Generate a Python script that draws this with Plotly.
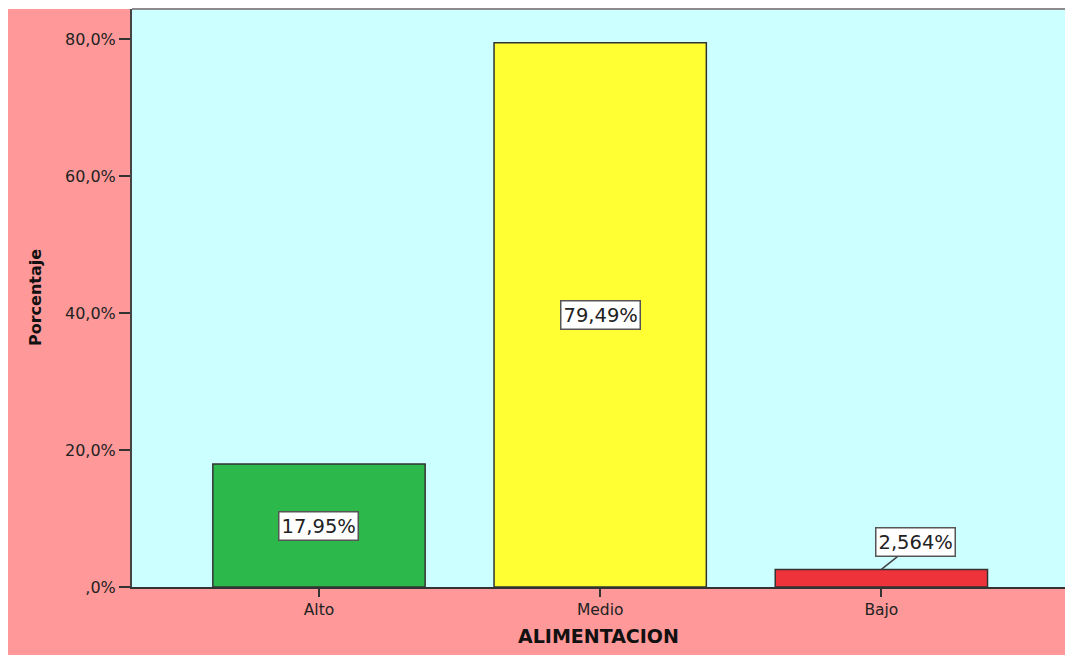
import plotly.graph_objects as go

# Data
categories = ["Alto", "Medio", "Bajo"]
percentages = [17.95, 79.49, 2.564]
bar_colors = ["#2DB84B", "#FFFF33", "#EF333A"]
y_tick_vals = [0, 20, 40, 60, 80]
y_tick_text = [",0%", "20,0%", "40,0%", "60,0%", "80,0%"]

W, H = 1065, 655
ML, MR, MT, MB = 132, 0, 9, 68
PW, PH = W - ML - MR, H - MT - MB

FONT = "DejaVu Sans, Verdana, Arial, sans-serif"


def pct_label(v):
    return f"{v:.4g}".replace(".", ",") + "%"


fig = go.Figure(
    go.Bar(
        x=categories,
        y=percentages,
        width=0.755,
        marker=dict(color=bar_colors, line=dict(color="#333333", width=1.5)),
        hoverinfo="skip",
    )
)

# Value labels: boxed, centred in the tall bars, lifted with a leader for the small one
annotations = []
for i, (cat, v) in enumerate(zip(categories, percentages)):
    common = dict(
        x=cat,
        text=pct_label(v),
        font=dict(family=FONT, size=19.5, color="#222222"),
        bgcolor="#FFFFFF",
        bordercolor="#555555",
        borderwidth=1.5,
        borderpad=2,
        xref="x",
        yref="y",
    )
    if v >= 10:
        annotations.append(dict(y=v / 2, showarrow=False, **common))
    else:
        annotations.append(
            dict(
                y=v,
                showarrow=True,
                arrowhead=0,
                arrowwidth=1.5,
                arrowcolor="#444444",
                ax=34,
                ay=-27,
                standoff=0,
                **common,
            )
        )

# Axis titles
annotations.append(
    dict(
        text="<b>ALIMENTACION</b>",
        xref="paper",
        yref="paper",
        x=0.5,
        y=0,
        yshift=-49,
        yanchor="middle",
        showarrow=False,
        font=dict(family=FONT, size=19, color="#111111"),
    )
)
annotations.append(
    dict(
        text="<b>Porcentaje</b>",
        xref="paper",
        yref="paper",
        x=0,
        xshift=-97,
        xanchor="center",
        y=0.5,
        textangle=-90,
        showarrow=False,
        font=dict(family=FONT, size=16, color="#111111"),
    )
)

shapes = [
    # white strip along the top edge
    dict(type="rect", xref="paper", yref="paper",
         x0=-ML / PW, x1=1.0, y0=1.0, y1=1 + MT / PH,
         fillcolor="#FFFFFF", line=dict(width=0), layer="above"),
    # white strip along the left edge
    dict(type="rect", xref="paper", yref="paper",
         x0=-ML / PW, x1=-(ML - 8) / PW, y0=-MB / PH, y1=1 + MT / PH,
         fillcolor="#FFFFFF", line=dict(width=0), layer="above"),
    # frame line along the top of the plot area
    dict(type="line", xref="paper", yref="paper",
         x0=0, x1=1, y0=1, y1=1,
         line=dict(color="#8C8C8C", width=2), layer="above"),
]

fig.update_layout(
    width=W,
    height=H,
    margin=dict(l=ML, r=MR, t=MT, b=MB, pad=0),
    paper_bgcolor="#FF9999",
    plot_bgcolor="#CCFFFF",
    showlegend=False,
    bargap=0.245,
    annotations=annotations,
    shapes=shapes,
    xaxis=dict(
        type="category",
        range=[-0.665, 2.653],
        showgrid=False,
        zeroline=False,
        showline=True,
        linecolor="#333333",
        linewidth=1.5,
        ticks="outside",
        ticklen=8,
        tickwidth=2,
        tickcolor="#333333",
        tickfont=dict(family=FONT, size=15.5, color="#222222"),
        fixedrange=True,
    ),
    yaxis=dict(
        range=[0, 84.4],
        tickvals=y_tick_vals,
        ticktext=y_tick_text,
        showgrid=False,
        zeroline=False,
        showline=True,
        linecolor="#444444",
        linewidth=2,
        ticks="outside",
        ticklen=11,
        tickwidth=1.5,
        tickcolor="#333333",
        tickfont=dict(family=FONT, size=16, color="#222222"),
        fixedrange=True,
    ),
)

fig.write_html("out.html", config={"displayModeBar": False})
